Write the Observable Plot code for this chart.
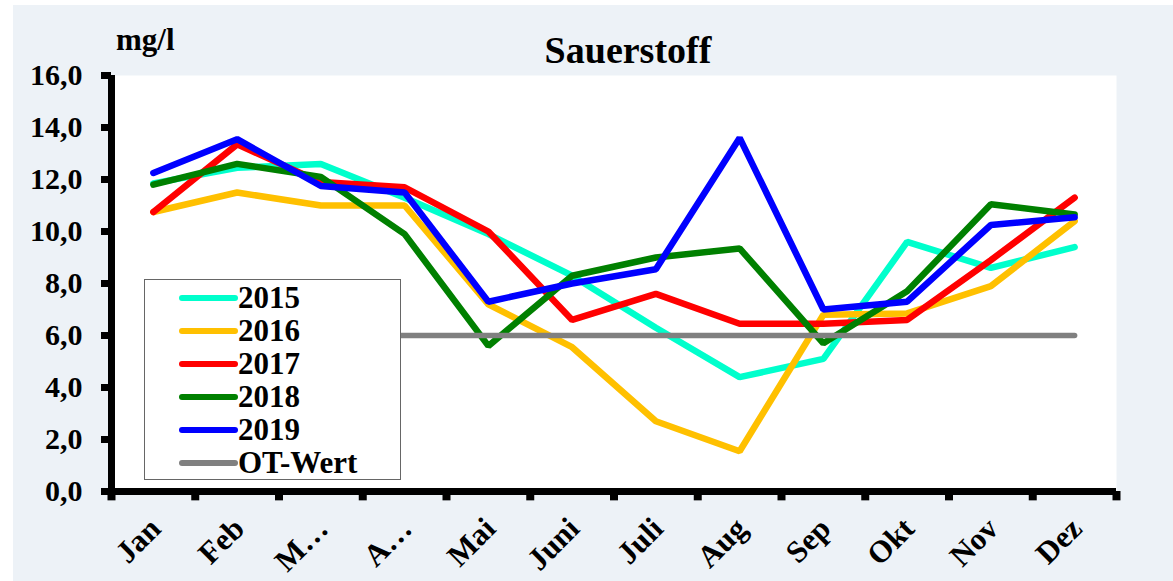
<!DOCTYPE html>
<html><head><meta charset="utf-8">
<script src="https://cdn.jsdelivr.net/npm/d3@7"></script>
<script src="https://cdn.jsdelivr.net/npm/@observablehq/plot@0.6"></script>
<style>
html,body{margin:0;padding:0;background:#fff;overflow:hidden;width:1173px;height:581px;}
#panel{position:absolute;left:13px;top:5px;width:1160px;height:576px;background:#EDF2F7;}
#chart{position:absolute;left:0;top:0;}
.txt{position:absolute;font-family:"Liberation Serif","Times New Roman",serif;font-weight:bold;color:#000;white-space:nowrap;}
#legend{position:absolute;left:131px;top:274px;width:257px;height:201px;background:#fff;border:1px solid #666;box-sizing:border-box;}
.row{position:absolute;left:0;height:33px;display:flex;align-items:center;}
.row svg{margin-left:34px;}
.row span{font-family:"Liberation Serif","Times New Roman",serif;font-weight:bold;font-size:31px;margin-left:0px;line-height:33px;}
</style></head><body>
<div id="panel">
  <div id="chart"></div>
  <div class="txt" id="title" style="font-size:38px;line-height:38px;left:0;width:1230px;text-align:center;top:26px;">Sauerstoff</div>
  <div class="txt" id="unit" style="font-size:31px;line-height:31px;left:103px;top:19px;">mg/l</div>
  <div id="legend"></div>
</div>
<script>
const months = ["Jan","Feb","M…","A…","Mai","Juni","Juli","Aug","Sep","Okt","Nov","Dez"];
const v2015 = [11.85, 12.45, 12.6, 11.3, 9.9, 8.3, 6.3, 4.4, 5.1, 9.6, 8.6, 9.4];
const v2016 = [10.75, 11.5, 11.0, 11.0, 7.2, 5.55, 2.7, 1.55, 6.8, 6.85, 7.9, 10.4];
const v2017 = [10.75, 13.35, 11.9, 11.7, 10.0, 6.6, 7.6, 6.45, 6.45, 6.6, 8.9, 11.3];
const v2018 = [11.8, 12.6, 12.1, 9.9, 5.6, 8.3, 9.0, 9.35, 5.7, 7.7, 11.05, 10.65];
const v2019 = [12.25, 13.55, 11.75, 11.5, 7.3, 8.0, 8.55, 13.6, 7.0, 7.3, 10.25, 10.55];
const vOT   = [6.0, 6.0, 6.0, 6.0, 6.0, 6.0, 6.0, 6.0, 6.0, 6.0, 6.0, 6.0];
const seriesNames = ["2015","2016","2017","2018","2019","OT-Wert"];
const seriesValues = [v2015, v2016, v2017, v2018, v2019, vOT];
const seriesColors = ["#00FFCC","#FFC000","#FF0000","#008000","#0000FF","#808080"];
const yTicks = [0,2,4,6,8,10,12,14,16];

const data = seriesNames.flatMap((name, s) => seriesValues[s].map((v, i) => ({name, i, v})));
const bounds = d3.range(months.length + 1).map(i => i - 0.5);
const font = "'Liberation Serif','Times New Roman',serif";

const chart = Plot.plot({
  width: 1160, height: 576,
  marginLeft: 98, marginRight: 57, marginTop: 70, marginBottom: 90,
  style: {background: "transparent", fontFamily: font, overflow: "visible"},
  x: {type: "linear", domain: [-0.5, months.length - 0.5], axis: null},
  y: {domain: [0, 16], axis: null},
  color: {domain: seriesNames, range: seriesColors},
  marks: [
    Plot.frame({fill: "white", stroke: null}),
    Plot.axisY({ticks: yTicks, tickFormat: d => d.toFixed(1).replace(".", ","), tickSize: 10, tickPadding: 19,
      stroke: "black", strokeWidth: 7, fontSize: 30, fontWeight: "bold", label: null}),
    Plot.ruleX([-0.5], {y1: 0, y2: 16, stroke: "black", strokeWidth: 7}),
    Plot.ruleX(bounds, {x: d => d, y1: 0, y2: -0.36, stroke: "black", strokeWidth: 8}),
    Plot.ruleY([0], {x1: -0.5, x2: months.length - 0.5, stroke: "black", strokeWidth: 7}),
    Plot.line(data.filter(d => d.name !== "OT-Wert"), {x: "i", y: "v", z: "name", stroke: "name",
      strokeWidth: 6.5, strokeLinejoin: "miter", strokeLinecap: "round"}),
    Plot.line(data.filter(d => d.name === "OT-Wert"), {x: "i", y: "v", stroke: "name",
      strokeWidth: 5.5, strokeLinecap: "round"}),
    Plot.text(months, {x: (d, i) => i, y: 0, text: d => d, rotate: -45, textAnchor: "end",
      dy: 32, dx: 2, fontSize: 31, fontWeight: "bold", fill: "black"})
  ]
});
document.getElementById("chart").appendChild(chart);

const legend = document.getElementById("legend");
seriesNames.forEach((name, k) => {
  const row = document.createElement("div");
  row.className = "row";
  row.style.top = (1 + k * 33) + "px";
  row.innerHTML = `<svg width="59" height="10"><line x1="3" y1="5" x2="56" y2="5" stroke="${seriesColors[k]}" stroke-width="6" stroke-linecap="round"/></svg><span>${name}</span>`;
  legend.appendChild(row);
});
</script>
</body></html>
